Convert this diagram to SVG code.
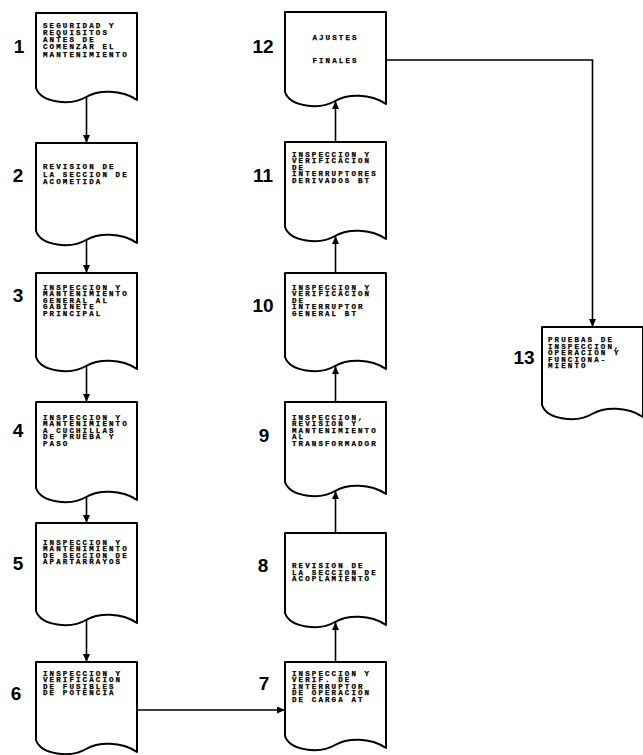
<svg xmlns="http://www.w3.org/2000/svg" width="643" height="755" viewBox="0 0 643 755">
<style>
.doc{fill:#fff;stroke:#000;stroke-width:2;stroke-linejoin:round}
.t{font-family:"Liberation Mono","DejaVu Sans Mono",monospace;font-weight:bold;font-size:7.5px;letter-spacing:2.1px;fill:#000;stroke:#000;stroke-width:0.25}
.c{text-anchor:middle}
.n{font-family:"Liberation Sans",Arial,sans-serif;font-weight:bold;font-size:19px;text-anchor:middle;fill:#000}
.ln{fill:none;stroke:#000;stroke-width:1.6;marker-end:url(#ah)}
</style>
<defs>
<marker id="ah" markerUnits="userSpaceOnUse" markerWidth="8" markerHeight="8" refX="8" refY="3.5" orient="auto">
<path d="M0,0 L8,3.5 L0,7 z" fill="#000"/>
</marker>
</defs>
<rect width="643" height="755" fill="#fff"/>
<g id="connectors">
<path class="ln" d="M86.5,97 V143"/>
<path class="ln" d="M86.5,240 V273"/>
<path class="ln" d="M86.5,366 V402"/>
<path class="ln" d="M86.5,497 V523"/>
<path class="ln" d="M86.5,620 V662"/>
<path class="ln" d="M137,710 H285"/>
<path class="ln" d="M335.5,662 V622"/>
<path class="ln" d="M335.5,533 V491"/>
<path class="ln" d="M335.5,402 V366"/>
<path class="ln" d="M335.5,273 V236"/>
<path class="ln" d="M335.5,142 V101"/>
<path class="ln" d="M386,60 H592.5 V327"/>
</g>
<g id="node1">
<path class="doc" d="M36,13 H137 V100 C121,89 98,90 86,97 C71,106 41,103 36,88 Z"/>
<text class="n" x="19" y="53">1</text>
<text class="t" x="43" y="27.5">SEGURIDAD Y</text>
<text class="t" x="43" y="35">REQUISITOS</text>
<text class="t" x="43" y="42">ANTES DE</text>
<text class="t" x="43" y="49">COMENZAR EL</text>
<text class="t" x="43" y="56.5">MANTENIMIENTO</text>
</g>
<g id="node2">
<path class="doc" d="M36,143 H137 V243 C121,232 98,233 86,240 C71,249 41,246 36,231 Z"/>
<text class="n" x="18" y="182">2</text>
<text class="t" x="43" y="169">REVISION DE</text>
<text class="t" x="43" y="176.5">LA SECCION DE</text>
<text class="t" x="43" y="184">ACOMETIDA</text>
</g>
<g id="node3">
<path class="doc" d="M36,273 H137 V369 C121,358 98,359 86,366 C71,375 41,372 36,357 Z"/>
<text class="n" x="18" y="302">3</text>
<text class="t" x="43" y="289.5">INSPECCION Y</text>
<text class="t" x="43" y="296">MANTENIMIENTO</text>
<text class="t" x="43" y="302.5">GENERAL AL</text>
<text class="t" x="43" y="309">GABINETE</text>
<text class="t" x="43" y="315.5">PRINCIPAL</text>
</g>
<g id="node4">
<path class="doc" d="M36,402 H137 V500 C121,489 98,490 86,497 C71,506 41,503 36,488 Z"/>
<text class="n" x="18" y="437">4</text>
<text class="t" x="43" y="419.5">INSPECCION Y</text>
<text class="t" x="43" y="426">MANTENIMIENTO</text>
<text class="t" x="43" y="432.5">A CUCHILLAS</text>
<text class="t" x="43" y="439">DE PRUEBA Y</text>
<text class="t" x="43" y="445.5">PASO</text>
</g>
<g id="node5">
<path class="doc" d="M36,523 H137 V623 C121,612 98,613 86,620 C71,629 41,626 36,611 Z"/>
<text class="n" x="18" y="570">5</text>
<text class="t" x="43" y="544.5">INSPECCION Y</text>
<text class="t" x="43" y="551">MANTENIMIENTO</text>
<text class="t" x="43" y="557.5">DE SECCION DE</text>
<text class="t" x="43" y="564">APARTARRAYOS</text>
</g>
<g id="node6">
<path class="doc" d="M36,662 H137 V752 C121,741 98,742 86,749 C71,758 41,755 36,740 Z"/>
<text class="n" x="16" y="700">6</text>
<text class="t" x="43" y="675.5">INSPECCION Y</text>
<text class="t" x="43" y="682">VERIFICACION</text>
<text class="t" x="43" y="688.5">DE FUSIBLES</text>
<text class="t" x="43" y="695">DE POTENCIA</text>
</g>
<g id="node7">
<path class="doc" d="M285,662 H386 V748 C370,737 347,738 335,745 C320,754 290,751 285,736 Z"/>
<text class="n" x="264" y="690">7</text>
<text class="t" x="292" y="675.5">INSPECCION Y</text>
<text class="t" x="292" y="682">VERIF. DE</text>
<text class="t" x="292" y="688.5">INTERRUPTOR</text>
<text class="t" x="292" y="695">DE OPERACION</text>
<text class="t" x="292" y="701.5">DE CARGA AT</text>
</g>
<g id="node8">
<path class="doc" d="M285,533 H386 V625 C370,614 347,615 335,622 C320,631 290,628 285,613 Z"/>
<text class="n" x="263" y="572">8</text>
<text class="t" x="292" y="568">REVISION DE</text>
<text class="t" x="292" y="574.5">LA SECCION DE</text>
<text class="t" x="292" y="581">ACOPLAMIENTO</text>
</g>
<g id="node9">
<path class="doc" d="M285,402 H386 V494 C370,483 347,484 335,491 C320,500 290,497 285,482 Z"/>
<text class="n" x="264" y="442">9</text>
<text class="t" x="292" y="419.5">INSPECCION,</text>
<text class="t" x="292" y="426">REVISION Y</text>
<text class="t" x="292" y="432.5">MANTENIMIENTO</text>
<text class="t" x="292" y="439">AL</text>
<text class="t" x="292" y="445.5">TRANSFORMADOR</text>
</g>
<g id="node10">
<path class="doc" d="M285,273 H386 V369 C370,358 347,359 335,366 C320,375 290,372 285,357 Z"/>
<text class="n" x="263" y="312">10</text>
<text class="t" x="292" y="289.5">INSPECCION Y</text>
<text class="t" x="292" y="296">VERIFICACION</text>
<text class="t" x="292" y="302.5">DE</text>
<text class="t" x="292" y="309">INTERRUPTOR</text>
<text class="t" x="292" y="315.5">GENERAL BT</text>
</g>
<g id="node11">
<path class="doc" d="M285,142 H386 V239 C370,228 347,229 335,236 C320,245 290,242 285,227 Z"/>
<text class="n" x="263" y="182">11</text>
<text class="t" x="292" y="156.5">INSPECCION Y</text>
<text class="t" x="292" y="163">VERIFICACION</text>
<text class="t" x="292" y="169.5">DE</text>
<text class="t" x="292" y="176">INTERRUPTORES</text>
<text class="t" x="292" y="182.5">DERIVADOS BT</text>
</g>
<g id="node12">
<path class="doc" d="M285,12 H386 V104 C370,93 347,94 335,101 C320,110 290,107 285,92 Z"/>
<text class="n" x="263" y="53">12</text>
<text class="t c" x="335.5" y="40">AJUSTES</text>
<text class="t c" x="335.5" y="63">FINALES</text>
</g>
<g id="node13">
<path class="doc" d="M542,327 H643 V417 C627,406 604,407 592,414 C577,423 547,420 542,405 Z"/>
<text class="n" x="524" y="364">13</text>
<text class="t" x="548" y="342">PRUEBAS DE</text>
<text class="t" x="548" y="348.5">INSPECCION,</text>
<text class="t" x="548" y="355">OPERACION Y</text>
<text class="t" x="548" y="361.5">FUNCIONA-</text>
<text class="t" x="548" y="368">MIENTO</text>
</g>
</svg>
